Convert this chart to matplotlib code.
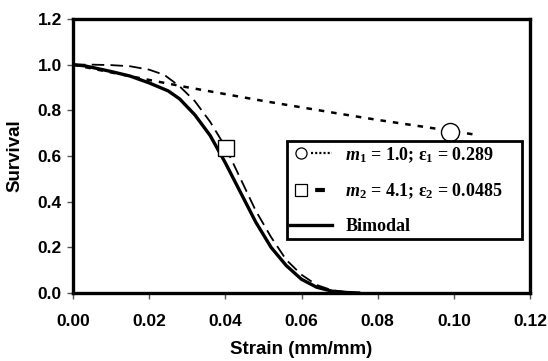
import matplotlib
matplotlib.use("Agg")
import matplotlib.pyplot as plt
from matplotlib.lines import Line2D
from matplotlib.legend_handler import HandlerTuple

plt.rcParams['font.family'] = ['Liberation Sans', 'DejaVu Sans']
plt.rcParams['mathtext.fontset'] = 'custom'
plt.rcParams['mathtext.rm'] = 'Liberation Serif:bold'
plt.rcParams['mathtext.it'] = 'Liberation Serif:italic:bold'
plt.rcParams['mathtext.bf'] = 'Liberation Serif:bold'
plt.rcParams['lines.scale_dashes'] = False

# values
# mode 1 (m1 = 1.0)
strain1 = [0.000, 0.010, 0.020, 0.030, 0.040, 0.050, 0.060, 0.070, 0.080, 0.090, 0.100, 0.105]
surv1 = [1.000, 0.966, 0.933, 0.901, 0.871, 0.841, 0.813, 0.785, 0.758, 0.733, 0.708, 0.695]

# mode 2 (m2 = 4.1)
strain2 = [0.000, 0.005, 0.010, 0.015, 0.020, 0.024, 0.028, 0.032, 0.036, 0.040,
           0.044, 0.048, 0.052, 0.056, 0.060, 0.064, 0.068, 0.072, 0.075]
surv2 = [1.000, 1.000, 0.998, 0.993, 0.978, 0.955, 0.905, 0.840, 0.750, 0.640,
         0.500, 0.360, 0.245, 0.145, 0.080, 0.035, 0.012, 0.003, 0.000]

# bimodal
strain_b = [0.000, 0.003, 0.005, 0.010, 0.015, 0.020, 0.025, 0.028, 0.032, 0.036,
            0.040, 0.044, 0.048, 0.052, 0.056, 0.060, 0.064, 0.068, 0.072, 0.075]
surv_b = [1.000, 0.995, 0.988, 0.970, 0.950, 0.920, 0.885, 0.850, 0.780, 0.690,
          0.570, 0.440, 0.310, 0.200, 0.120, 0.060, 0.025, 0.008, 0.002, 0.000]

# single markers
circle_pt = (0.099, 0.705)
square_pt = (0.0403, 0.633)

labels = [r"$m_1$ = 1.0; $\mathrm{ε}_1$ = 0.289",
          r"$m_2$ = 4.1; $\mathrm{ε}_2$ = 0.0485",
          "Bimodal"]

fig = plt.figure(figsize=(5.48, 3.61), dpi=100)
ax = fig.add_axes([0.1332, 0.1884, 0.834, 0.759])

dots = (0, (4, 5))
dash = (0, (9, 4.5))

ax.plot(strain1, surv1, color='black', lw=1.8, linestyle=dots)
ax.plot(strain2, surv2, color='black', lw=1.3, linestyle=dash)
ax.plot(strain_b, surv_b, color='black', lw=2.4)
ax.plot(*circle_pt, marker='o', ms=13, mfc='white', mec='black', mew=1.0, ls='none', zorder=5)
ax.plot(*square_pt, marker='s', ms=12, mfc='white', mec='black', mew=1.0, ls='none', zorder=5)

ax.set_xlim(0, 0.12)
ax.set_ylim(0, 1.2)
ax.set_xticks([0.00, 0.02, 0.04, 0.06, 0.08, 0.10, 0.12])
ax.set_xticklabels(['0.00', '0.02', '0.04', '0.06', '0.08', '0.10', '0.12'])
ax.set_yticks([0.0, 0.2, 0.4, 0.6, 0.8, 1.0, 1.2])
ax.set_yticklabels(['0.0', '0.2', '0.4', '0.6', '0.8', '1.0', '1.2'])
for lab in ax.get_xticklabels() + ax.get_yticklabels():
    lab.set_fontweight('bold')
    lab.set_fontsize(12.5)
ax.tick_params(axis='both', direction='out', length=4, width=1, color='#555555')
ax.tick_params(axis='x', pad=11)
ax.tick_params(axis='y', pad=4)
for s in ax.spines.values():
    s.set_linewidth(2.4)

ax.set_xlabel('Strain (mm/mm)', fontsize=13.5, fontweight='bold', labelpad=9)
ax.set_ylabel('Survival', fontsize=13.5, fontweight='bold', labelpad=10)

h1 = (Line2D([], [], marker='o', ms=8, mfc='white', mec='black', mew=0.9, ls='none'),
      Line2D([], [], color='black', lw=1.6, linestyle=(0, (1.5, 1.5))))
h2 = (Line2D([], [], marker='s', ms=8.5, mfc='white', mec='black', mew=0.9, ls='none'),
      Line2D([], [], color='black', lw=3, linestyle=(0, (0.01, 3, 7, 50))))
h3 = Line2D([], [], color='black', lw=2.4)

leg = ax.legend([h1, h2, h3], labels,
                handler_map={tuple: HandlerTuple(ndivide=2, pad=0.0)},
                loc='lower left', bbox_to_anchor=(0.4675, 0.197, 0.514, 0.3555),
                mode='expand', fancybox=False, framealpha=1, edgecolor='black',
                prop={'family': 'Liberation Serif', 'weight': 'bold', 'size': 13},
                handlelength=2.3, handletextpad=0.75, labelspacing=0.95,
                borderpad=0.2, borderaxespad=0)
leg.get_frame().set_linewidth(2.0)

fig.savefig('out.png', dpi=100)
